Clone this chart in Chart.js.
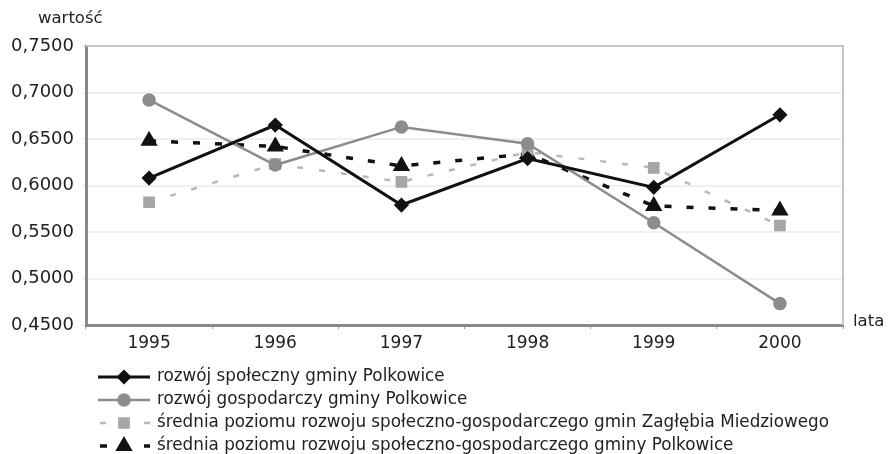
<!DOCTYPE html>
<html>
<head>
<meta charset="utf-8">
<script src="https://cdn.jsdelivr.net/npm/chart.js@4/dist/chart.umd.min.js"></script>
<style>
  html, body { margin: 0; padding: 0; background: #fff; }
  #wrap { width: 888px; height: 454px; }
</style>
</head>
<body>
<div id="wrap"><canvas id="chart" width="888" height="454"></canvas></div>
<script>
const years = ['1995', '1996', '1997', '1998', '1999', '2000'];
const spoleczny = [0.608, 0.665, 0.579, 0.629, 0.598, 0.676];
const gospodarczy = [0.692, 0.622, 0.663, 0.645, 0.560, 0.473];
const sredniaZaglebia = [0.582, 0.623, 0.604, 0.636, 0.619, 0.557];
const sredniaPolkowice = [0.648, 0.642, 0.621, 0.634, 0.578, 0.573];
const seriesNames = [
    'rozwój społeczny gminy Polkowice',
    'rozwój gospodarczy gminy Polkowice',
    'średnia poziomu rozwoju społeczno-gospodarczego gmin Zagłębia Miedziowego',
    'średnia poziomu rozwoju społeczno-gospodarczego gminy Polkowice'
];

const FONT = '"DejaVu Sans", Verdana, sans-serif';

// axis titles, frame and legend drawn by hand
const extras = {
    id: 'extras',
    beforeDatasetsDraw(chart) {
        const { ctx, chartArea: a } = chart;
        ctx.save();
        ctx.strokeStyle = '#c4c4c4';
        ctx.lineWidth = 2;
        ctx.beginPath();
        ctx.moveTo(a.left, a.top);
        ctx.lineTo(a.right, a.top);
        ctx.lineTo(a.right, a.bottom);
        ctx.stroke();
        ctx.restore();
    },
    afterDraw(chart) {
        const { ctx, chartArea: a } = chart;
        ctx.save();
        ctx.fillStyle = '#222';
        ctx.font = '16.5px ' + FONT;
        ctx.textBaseline = 'middle';
        ctx.fillText('wartość', 38, 19);
        ctx.fillText('lata', a.right + 10, a.bottom - 3);

        chart.data.datasets.forEach((ds, i) => {
            const y = 377 + i * 23;
            ctx.save();
            ctx.strokeStyle = ds.borderColor;
            ctx.lineWidth = ds.borderWidth;
            ctx.setLineDash(ds.borderDash || []);
            if (ds.borderDash) ctx.lineDashOffset = -2;
            ctx.beginPath();
            ctx.moveTo(98, y);
            ctx.lineTo(150, y);
            ctx.stroke();
            ctx.setLineDash([]);
            ctx.fillStyle = ds.pointBackgroundColor;
            ctx.strokeStyle = ds.pointBorderColor;
            Chart.helpers.drawPoint(ctx, {
                pointStyle: ds.pointStyle,
                radius: ds.pointRadius,
                borderWidth: 1
            }, 124, y);
            ctx.restore();
            ctx.fillStyle = '#222';
            ctx.font = '16.8px ' + FONT;
            ctx.fillText(seriesNames[i], 157, y);
        });
        ctx.restore();
    }
};

new Chart(document.getElementById('chart').getContext('2d'), {
    type: 'line',
    data: {
        labels: years,
        datasets: [
            {
                label: seriesNames[0],
                data: spoleczny,
                borderColor: '#111',
                borderWidth: 3,
                pointStyle: 'rectRot',
                pointRadius: 5.5,
                pointBackgroundColor: '#111',
                pointBorderColor: '#111',
                tension: 0
            },
            {
                label: seriesNames[1],
                data: gospodarczy,
                borderColor: '#8c8c8c',
                borderWidth: 2.5,
                pointStyle: 'circle',
                pointRadius: 5.5,
                pointBackgroundColor: '#8c8c8c',
                pointBorderColor: '#8c8c8c',
                tension: 0
            },
            {
                label: seriesNames[2],
                data: sredniaZaglebia,
                borderColor: '#b8b8b8',
                borderWidth: 2.5,
                borderDash: [6, 16],
                pointStyle: 'rect',
                pointRadius: 6.5,
                pointBackgroundColor: '#a6a6a6',
                pointBorderColor: '#a6a6a6',
                tension: 0
            },
            {
                label: seriesNames[3],
                data: sredniaPolkowice,
                borderColor: '#111',
                borderWidth: 3.5,
                borderDash: [7, 15],
                pointStyle: 'triangle',
                pointRadius: 6.5,
                pointBackgroundColor: '#111',
                pointBorderColor: '#111',
                tension: 0
            }
        ]
    },
    options: {
        responsive: false,
        animation: false,
        layout: { padding: { left: 0, right: 45, top: 46, bottom: 99 } },
        plugins: {
            legend: { display: false },
            tooltip: { enabled: false }
        },
        scales: {
            x: {
                offset: true,
                afterFit: s => { s.height = 30; },
                grid: { offset: true, drawOnChartArea: false, tickLength: 4, color: '#999' },
                border: { color: '#888', width: 3 },
                ticks: { color: '#222', font: { family: FONT, size: 17 }, padding: 4 }
            },
            y: {
                min: 0.45,
                max: 0.75,
                afterFit: s => { s.width = 86; },
                grid: { color: '#f0f0f0', lineWidth: 2, tickLength: 4, drawTicks: true },
                border: { color: '#888', width: 3 },
                ticks: {
                    stepSize: 0.05,
                    color: '#222',
                    font: { family: FONT, size: 18 },
                    padding: 8,
                    callback: v => v.toFixed(4).replace('.', ',')
                }
            }
        }
    },
    plugins: [extras]
});
</script>
</body>
</html>
